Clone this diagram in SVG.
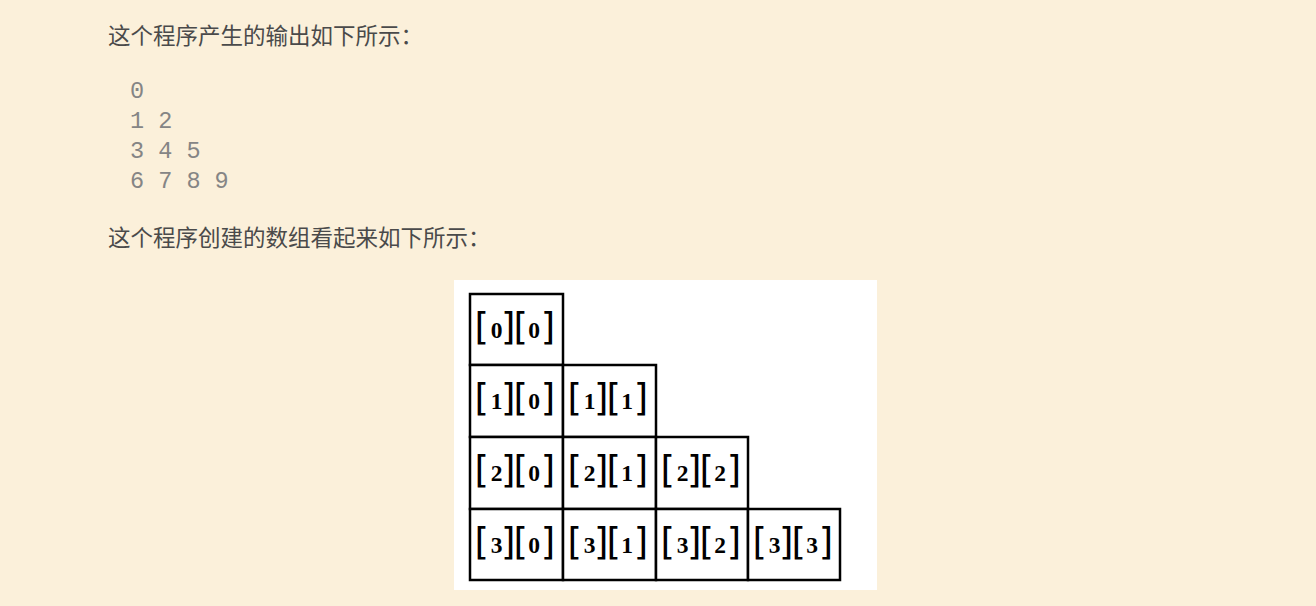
<svg xmlns="http://www.w3.org/2000/svg" width="1316" height="606" viewBox="0 0 1316 606">
<style>
.cn{font-family:"Noto Sans CJK SC","Noto Sans",sans-serif;font-size:22.5px;fill:#4a4a4a}
.mono{font-family:"Liberation Mono","DejaVu Sans Mono",monospace;font-size:23.5px;fill:#858585}
.cell{fill:#fff;stroke:#000;stroke-width:2.5}
.br{font-family:"DejaVu Sans",sans-serif;font-size:37px;fill:#000;text-anchor:middle}
.dg{font-family:"Liberation Serif",serif;font-size:23.5px;font-weight:bold;fill:#000;text-anchor:middle}
</style>
<rect width="1316" height="606" fill="#fbf0da"/>
<text class="cn" x="108" y="44">这个程序产生的输出如下所示：</text>
<g class="mono">
<text x="130" y="97.5">0</text>
<text x="130" y="127.5">1 2</text>
<text x="130" y="157.5">3 4 5</text>
<text x="130" y="187.5">6 7 8 9</text>
</g>
<text class="cn" x="108" y="246">这个程序创建的数组看起来如下所示：</text>
<rect x="454" y="280" width="423" height="310" fill="#fff"/>
<g id="cells">
<rect class="cell" x="470" y="294" width="93" height="71"/>
<rect class="cell" x="470" y="365" width="93" height="72"/>
<rect class="cell" x="563" y="365" width="93" height="72"/>
<rect class="cell" x="470" y="437" width="93" height="72"/>
<rect class="cell" x="563" y="437" width="93" height="72"/>
<rect class="cell" x="656" y="437" width="92" height="72"/>
<rect class="cell" x="470" y="509" width="93" height="71"/>
<rect class="cell" x="563" y="509" width="93" height="71"/>
<rect class="cell" x="656" y="509" width="92" height="71"/>
<rect class="cell" x="748" y="509" width="92" height="71"/>
</g>
<g id="n00" transform="translate(470,294)">
<text class="br" x="11.7" y="46">[</text><text class="dg" x="26.7" y="43.5">0</text><text class="br" x="38.3" y="46">]</text>
<text class="br" x="50.7" y="46">[</text><text class="dg" x="64" y="43.5">0</text><text class="br" x="78" y="46">]</text>
</g>
<g id="n10" transform="translate(470,365)">
<text class="br" x="11.7" y="46">[</text><text class="dg" x="26.7" y="43.5">1</text><text class="br" x="38.3" y="46">]</text>
<text class="br" x="50.7" y="46">[</text><text class="dg" x="64" y="43.5">0</text><text class="br" x="78" y="46">]</text>
</g>
<g id="n11" transform="translate(563,365)">
<text class="br" x="11.7" y="46">[</text><text class="dg" x="26.7" y="43.5">1</text><text class="br" x="38.3" y="46">]</text>
<text class="br" x="50.7" y="46">[</text><text class="dg" x="64" y="43.5">1</text><text class="br" x="78" y="46">]</text>
</g>
<g id="n20" transform="translate(470,437)">
<text class="br" x="11.7" y="46">[</text><text class="dg" x="26.7" y="43.5">2</text><text class="br" x="38.3" y="46">]</text>
<text class="br" x="50.7" y="46">[</text><text class="dg" x="64" y="43.5">0</text><text class="br" x="78" y="46">]</text>
</g>
<g id="n21" transform="translate(563,437)">
<text class="br" x="11.7" y="46">[</text><text class="dg" x="26.7" y="43.5">2</text><text class="br" x="38.3" y="46">]</text>
<text class="br" x="50.7" y="46">[</text><text class="dg" x="64" y="43.5">1</text><text class="br" x="78" y="46">]</text>
</g>
<g id="n22" transform="translate(656,437)">
<text class="br" x="11.7" y="46">[</text><text class="dg" x="26.7" y="43.5">2</text><text class="br" x="38.3" y="46">]</text>
<text class="br" x="50.7" y="46">[</text><text class="dg" x="64" y="43.5">2</text><text class="br" x="78" y="46">]</text>
</g>
<g id="n30" transform="translate(470,509)">
<text class="br" x="11.7" y="46">[</text><text class="dg" x="26.7" y="43.5">3</text><text class="br" x="38.3" y="46">]</text>
<text class="br" x="50.7" y="46">[</text><text class="dg" x="64" y="43.5">0</text><text class="br" x="78" y="46">]</text>
</g>
<g id="n31" transform="translate(563,509)">
<text class="br" x="11.7" y="46">[</text><text class="dg" x="26.7" y="43.5">3</text><text class="br" x="38.3" y="46">]</text>
<text class="br" x="50.7" y="46">[</text><text class="dg" x="64" y="43.5">1</text><text class="br" x="78" y="46">]</text>
</g>
<g id="n32" transform="translate(656,509)">
<text class="br" x="11.7" y="46">[</text><text class="dg" x="26.7" y="43.5">3</text><text class="br" x="38.3" y="46">]</text>
<text class="br" x="50.7" y="46">[</text><text class="dg" x="64" y="43.5">2</text><text class="br" x="78" y="46">]</text>
</g>
<g id="n33" transform="translate(748,509)">
<text class="br" x="11.7" y="46">[</text><text class="dg" x="26.7" y="43.5">3</text><text class="br" x="38.3" y="46">]</text>
<text class="br" x="50.7" y="46">[</text><text class="dg" x="64" y="43.5">3</text><text class="br" x="78" y="46">]</text>
</g>
</svg>
